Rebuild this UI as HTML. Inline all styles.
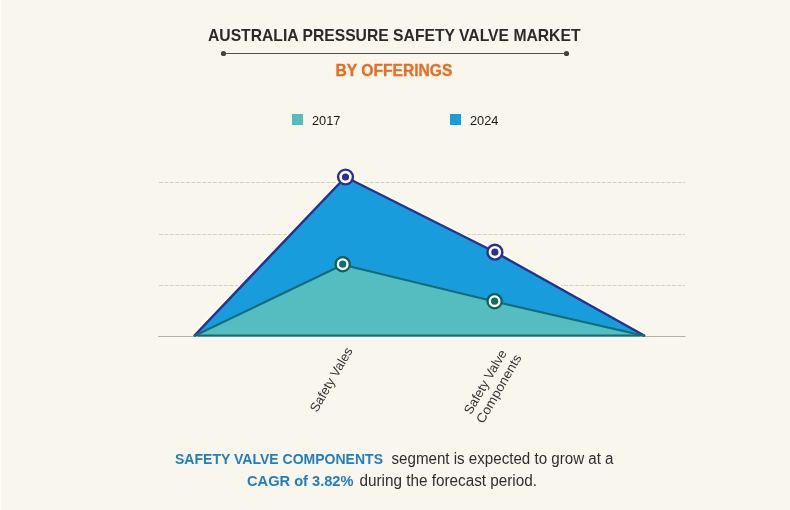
<!DOCTYPE html>
<html lang="en">
<head>
<meta charset="utf-8">
<title>Australia Pressure Safety Valve Market by Offerings</title>
<style>
  html, body { margin: 0; padding: 0; background: #f9f6ee; }
  body { width: 790px; height: 510px; overflow: hidden; }
  svg { display: block; }
  text { font-family: "Liberation Sans", sans-serif; }
  .title { font-weight: bold; font-size: 15.7px; fill: #2a2a2a; }
  .sub { font-weight: bold; font-size: 16px; fill: #e96d1f; stroke: #e96d1f; stroke-width: 0.3px; }
  .leg { font-size: 12.7px; fill: #1a1a1a; }
  .axis { font-size: 13px; fill: #333; }
  .fb { font-weight: bold; font-size: 14.5px; fill: #1f7ec4; }
  .fr { font-size: 16px; fill: #2e2e2e; }
</style>
</head>
<body>
<svg width="790" height="510" viewBox="0 0 790 510">
  <rect x="0" y="0" width="790" height="510" fill="#f9f6ee"/>

  <rect x="0" y="0" width="1" height="510" fill="#fdfcf6"/>

  <!-- Title -->
  <text class="title" x="208" y="40.8" textLength="372.5" lengthAdjust="spacingAndGlyphs">AUSTRALIA PRESSURE SAFETY VALVE MARKET</text>
  <line x1="223.5" y1="53.5" x2="566.5" y2="53.5" stroke="#505050" stroke-width="1"/>
  <circle cx="223.5" cy="53.5" r="2.6" fill="#444"/>
  <circle cx="566.5" cy="53.5" r="2.6" fill="#444"/>
  <text class="sub" x="335.6" y="75.5" textLength="116.7" lengthAdjust="spacingAndGlyphs">BY OFFERINGS</text>

  <!-- Legend -->
  <rect x="292" y="114" width="11" height="11" fill="#55bdc0"/>
  <text class="leg" x="312" y="124.5" textLength="28.5" lengthAdjust="spacingAndGlyphs">2017</text>
  <rect x="450" y="114" width="11" height="11" fill="#199cdc"/>
  <text class="leg" x="470" y="124.5" textLength="28.5" lengthAdjust="spacingAndGlyphs">2024</text>

  <!-- Grid -->
  <g stroke="#d3d0c7" stroke-width="1" stroke-dasharray="4 1.4" fill="none">
    <line x1="159" y1="182.5" x2="685" y2="182.5"/>
    <line x1="159" y1="234.5" x2="685" y2="234.5"/>
    <line x1="159" y1="285.5" x2="685" y2="285.5"/>
  </g>
  <line x1="158" y1="336.5" x2="685.5" y2="336.5" stroke="#b3b1a8" stroke-width="1"/>

  <!-- 2024 series -->
  <polygon points="194,336 345.5,177 494.8,252 645,336" fill="#199cdc"/>
  <polyline points="194,336 345.5,177 494.8,252 645,336" fill="none" stroke="#ffffff" stroke-width="6" stroke-linejoin="round"/>
  <polygon points="194,336 345.5,177 494.8,252 645,336" fill="#199cdc" stroke="none"/>
  <polyline points="194,336 345.5,177 494.8,252 645,336" fill="none" stroke="#2a2f94" stroke-width="2.5" stroke-linejoin="round"/>

  <!-- 2017 series -->
  <polygon points="194,336 342.7,264.8 494.6,301.6 645,336" fill="#55bdc0"/>
  <polyline points="194,336 342.7,264.8 494.6,301.6 645,336" fill="none" stroke="#0f6e78" stroke-width="2.1" stroke-linejoin="round"/>
  <line x1="194" y1="335.5" x2="645" y2="335.5" stroke="#0f6e78" stroke-width="2"/>

  <!-- Markers -->
  <g>
    <circle cx="345.5" cy="177" r="7.4" fill="#ffffff" stroke="#2a2f94" stroke-width="2.4"/>
    <circle cx="345.5" cy="177" r="3.6" fill="#2a2f94"/>
    <circle cx="494.9" cy="252.2" r="7.4" fill="#ffffff" stroke="#2a2f94" stroke-width="2.4"/>
    <circle cx="494.9" cy="252.2" r="3.6" fill="#2a2f94"/>
    <circle cx="342.7" cy="264.2" r="7.1" fill="#ffffff" stroke="#0f5f5c" stroke-width="2.3"/>
    <circle cx="342.7" cy="264.2" r="3.6" fill="#0f6e63"/>
    <circle cx="494.6" cy="301.2" r="7.1" fill="#ffffff" stroke="#0f5f5c" stroke-width="2.3"/>
    <circle cx="494.6" cy="301.2" r="3.6" fill="#0f6e63"/>
  </g>

  <!-- Category labels -->
  <text class="axis" transform="translate(317,413) rotate(-60)" x="0" y="0">Safety Vales</text>
  <g transform="translate(486,382.4) rotate(-60)">
    <text class="axis" text-anchor="middle" x="0" y="3.5">Safety Valve</text>
    <text class="axis" text-anchor="middle" x="1" y="18.6" textLength="77" lengthAdjust="spacingAndGlyphs">Components</text>
  </g>

  <!-- Footer -->
  <text class="fb" x="175" y="463.7" textLength="208" lengthAdjust="spacingAndGlyphs">SAFETY VALVE COMPONENTS</text>
  <text class="fr" x="391.5" y="463.7" textLength="222" lengthAdjust="spacingAndGlyphs">segment is expected to grow at a</text>
  <text class="fb" x="247" y="485.6" textLength="106.5" lengthAdjust="spacingAndGlyphs">CAGR of 3.82%</text>
  <text class="fr" x="359.5" y="485.6" textLength="177.5" lengthAdjust="spacingAndGlyphs">during the forecast period.</text>
</svg>
</body>
</html>
